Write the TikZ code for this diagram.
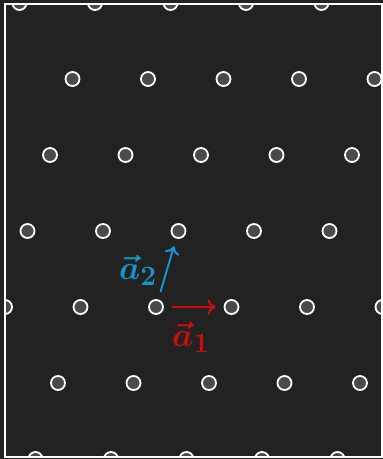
\documentclass[tikz,border=0pt]{standalone}
\usetikzlibrary{calc,arrows.meta}
\definecolor{bgdark}{RGB}{34,34,34}
\definecolor{sitegray}{RGB}{74,74,74}
\definecolor{vecred}{RGB}{200,14,14}
\definecolor{vecblue}{RGB}{22,150,200}
\begin{document}
\begin{tikzpicture}[x=1pt,y=1pt,
	site node/.style={circle,draw=white,line width=1.8pt,fill=sitegray,minimum size=14pt,inner sep=0pt},
	vec arrow/.style={-{To[length=8pt,width=15pt]},line width=2pt},
	vec label/.style={font=\Huge\boldmath,scale=1.35,transform shape}
]

	\def \ax {75.5};
	\def \bx {22.5};
	\def \by {76};

	\fill[bgdark] (-156,-152) rectangle (227,307);
	\useasboundingbox (-156,-152) rectangle (227,307);

	\begin{scope}
		\clip (-151,-150) rectangle (226,303);
		\foreach \i in {-2,...,4} {
			\foreach \j in {-5,...,5} {
				\node[site node] (s\i\j) at ({\ax*\j+\bx*\i},{\by*\i}) {};
			}
		}
	\end{scope}
	\draw[white,line width=1.6pt] (-151,-150) rectangle (226,303);

	\draw[vec arrow,vecred] ($(s00)!0.21!(s01)$) -- ($(s00)!0.79!(s01)$);
	\draw[vec arrow,vecblue] ($(s00)!0.2!(s10)$) -- ($(s00)!0.8!(s10)$);
	\node[vec label,vecred] (a1) at (35,-30) {$\vec{a}_1$};
	\node[vec label,vecblue] (a2) at (-18,37) {$\vec{a}_2$};
\end{tikzpicture}
\end{document}
